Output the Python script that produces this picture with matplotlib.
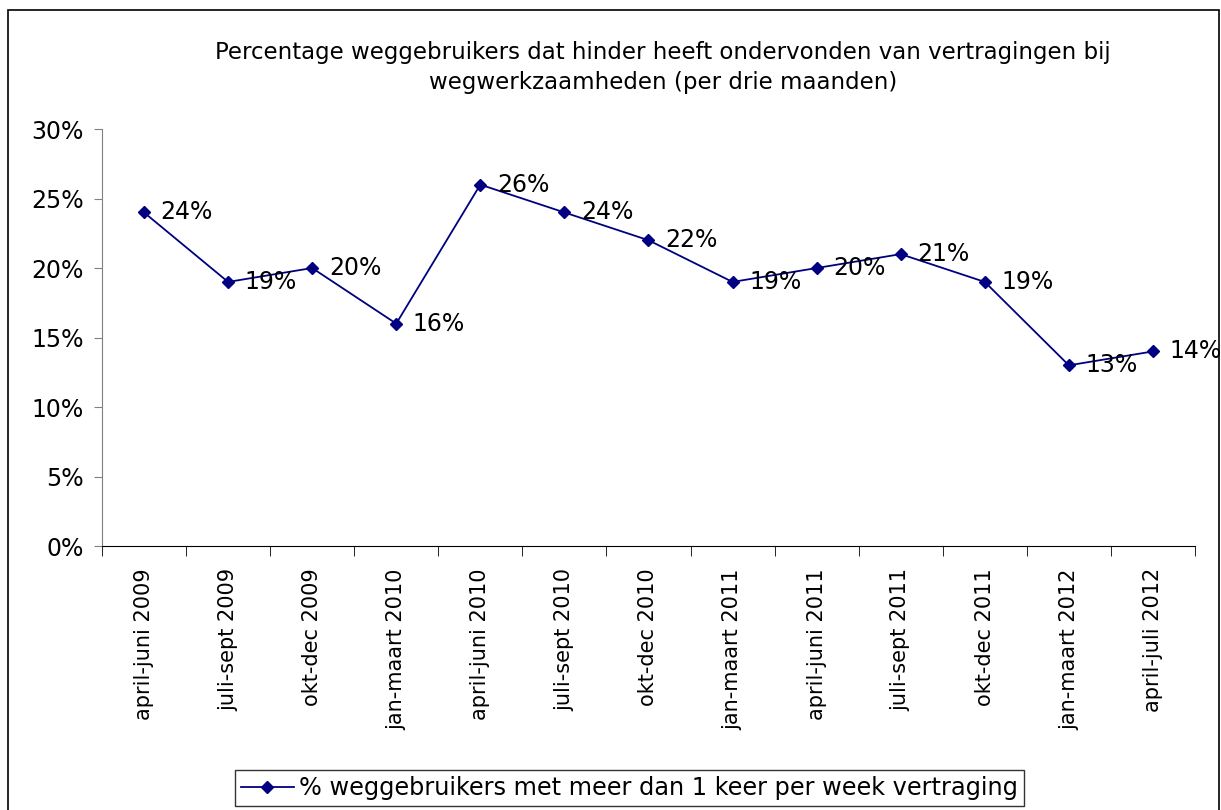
import matplotlib
matplotlib.use("Agg")
import matplotlib.pyplot as plt
from matplotlib.patches import Rectangle
from matplotlib.ticker import FixedLocator, PercentFormatter

periods = ["april-juni 2009", "juli-sept 2009", "okt-dec 2009", "jan-maart 2010",
           "april-juni 2010", "juli-sept 2010", "okt-dec 2010", "jan-maart 2011",
           "april-juni 2011", "juli-sept 2011", "okt-dec 2011", "jan-maart 2012",
           "april-juli 2012"]
values = [24, 19, 20, 16, 26, 24, 22, 19, 20, 21, 19, 13, 14]
yticks = [0, 5, 10, 15, 20, 25, 30]

NAVY = "#000080"
plt.rcParams["font.family"] = "DejaVu Sans"

fig = plt.figure(figsize=(12.21, 8.10), dpi=100)
ax = fig.add_axes([0.0835, 0.3259, 0.8952, 0.5148])

x = list(range(len(values)))
ax.plot(x, values, color=NAVY, lw=1.3, marker="D", ms=6.5,
        label="% weggebruikers met meer dan 1 keer per week vertraging")
for xi, v in zip(x, values):
    ax.annotate(f"{v}%", (xi, v), xytext=(12, 0), textcoords="offset points",
                ha="left", va="center", fontsize=17)

ax.set_xlim(-0.5, len(values) - 0.5)
ax.set_ylim(0, 30)
ax.set_yticks(yticks)
ax.yaxis.set_major_formatter(PercentFormatter(decimals=0))
ax.set_xticks(x)
ax.set_xticklabels(periods, rotation=90, fontsize=15)
ax.tick_params(axis="x", which="major", length=0, pad=16)
ax.xaxis.set_minor_locator(FixedLocator([i - 0.5 for i in range(len(values) + 1)]))
ax.tick_params(axis="x", which="minor", length=7, direction="out", color="black")
ax.tick_params(axis="y", length=6, pad=7, direction="out", labelsize=17,
               color="#808080")

for s in ("top", "right"):
    ax.spines[s].set_visible(False)
ax.spines["left"].set_color("#808080")
ax.spines["bottom"].set_color("black")

fig.text(0.543, 0.95, "Percentage weggebruikers dat hinder heeft ondervonden van vertragingen bij\nwegwerkzaamheden (per drie maanden)",
         ha="center", va="top", fontsize=16.5, linespacing=1.4)

leg = ax.legend(loc="upper left", bbox_to_anchor=(235 / 1221, 1 - 770 / 810),
                bbox_transform=fig.transFigure, fontsize=17.3, frameon=True,
                fancybox=False, edgecolor="black", borderpad=0.25,
                handlelength=2.2, handletextpad=0.2, borderaxespad=0)
leg.get_frame().set_linewidth(1.0)

fig.patches.append(Rectangle((8 / 1221, -0.05), 1211 / 1221, 1.05 - 10 / 810,
                             transform=fig.transFigure, fill=False,
                             edgecolor="black", lw=1.2))

fig.savefig("out.png", dpi=100)
